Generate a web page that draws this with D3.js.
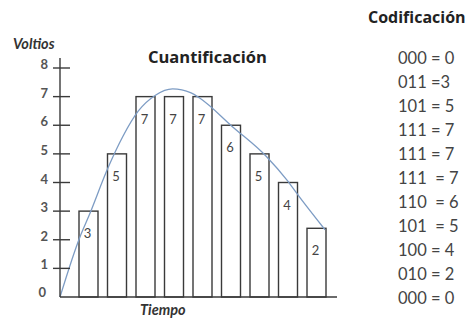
<!DOCTYPE html>
<html>
<head>
<meta charset="utf-8">
<script src="https://cdnjs.cloudflare.com/ajax/libs/d3/7.8.5/d3.min.js"></script>
<style>
  body { margin: 0; background: #fff; }
  text { font-family: Lato, "Open Sans", sans-serif; }
</style>
</head>
<body>
<div class="canvas"></div>
<script>

// datos de la señal cuantificada
const muestras = [1, 2, 3, 4, 5, 6, 7, 8, 9];
const alturas = [3, 5, 7, 7, 7, 6, 5, 4, 2.4];
const etiquetas = ['3', '5', '7', '7', '7', '6', '5', '4', '2'];

// señal analógica (tiempo, voltios)
const curvaT = [0, 0.7, 1.0, 1.7, 2.2, 2.75, 3.35, 3.95, 4.6, 4.9, 6.05, 7.25, 7.95, 8.4, 9.3];
const curvaV = [0, 2.1, 2.8, 4.55, 5.6, 6.5, 7.05, 7.27, 7.13, 6.95, 5.95, 4.9, 4.1, 3.5, 2.35];

const ticksY = [0, 1, 2, 3, 4, 5, 6, 7, 8];

const codigos = ['000 = 0', '011 =3', '101 = 5', '111 = 7', '111 = 7', '111  = 7',
  '110  = 6', '101  = 5', '100 = 4', '010 = 2', '000 = 0'];

const dims = { width: 475, height: 321 };

const svg = d3.select('.canvas')
  .append('svg')
  .attr('width', dims.width)
  .attr('height', dims.height);

const x = d3.scaleLinear().domain([0, 1]).range([60, 88.5]);
const y = d3.scaleLinear().domain([0, 8]).range([297, 68]);

const gris = '#3a3a3a';

// barras
svg.selectAll('.barra')
  .data(muestras)
  .enter()
  .append('rect')
    .attr('class', 'barra')
    .attr('x', d => x(d) - 9.5)
    .attr('width', 19)
    .attr('y', (d, i) => y(alturas[i]))
    .attr('height', (d, i) => y(0) - y(alturas[i]))
    .attr('fill', 'none')
    .attr('stroke', gris)
    .attr('stroke-width', 1.4);

svg.selectAll('.etiqueta')
  .data(muestras)
  .enter()
  .append('text')
    .attr('class', 'etiqueta')
    .attr('x', d => x(d) - 1)
    .attr('y', (d, i) => y(alturas[i]) + 27)
    .attr('text-anchor', 'middle')
    .attr('font-size', 13)
    .attr('fill', '#444')
    .text((d, i) => etiquetas[i]);

// curva
const linea = d3.line()
  .x(d => x(d[0]))
  .y(d => y(d[1]))
  .curve(d3.curveMonotoneX);

svg.append('path')
  .datum(curvaT.map((t, i) => [t, curvaV[i]]))
  .attr('d', linea)
  .attr('fill', 'none')
  .attr('stroke', '#7d9cc4')
  .attr('stroke-width', 1.3);

// ejes
svg.append('line')
  .attr('x1', x(0)).attr('x2', 337)
  .attr('y1', y(0)).attr('y2', y(0))
  .attr('stroke', gris).attr('stroke-width', 1.6);

svg.append('line')
  .attr('x1', x(0)).attr('x2', x(0))
  .attr('y1', y(0)).attr('y2', 58)
  .attr('stroke', gris).attr('stroke-width', 1.4);

svg.selectAll('.tick')
  .data(ticksY.filter(d => d > 0))
  .enter()
  .append('line')
    .attr('class', 'tick')
    .attr('x1', 53).attr('x2', 70)
    .attr('y1', d => y(d)).attr('y2', d => y(d))
    .attr('stroke', gris).attr('stroke-width', 1.4);

svg.selectAll('.tickLabel')
  .data(ticksY)
  .enter()
  .append('text')
    .attr('class', 'tickLabel')
    .attr('x', d => d === 0 ? 46 : 48)
    .attr('y', d => y(d) + (d === 0 ? 0 : 1))
    .attr('text-anchor', 'end')
    .attr('font-size', 13)
    .attr('font-weight', 'bold')
    .attr('fill', '#555')
    .text(d => d);

// títulos
svg.append('text')
  .attr('x', 13).attr('y', 49)
  .attr('font-size', 14.5).attr('font-weight', 'bold').attr('font-style', 'italic')
  .attr('fill', '#333')
  .text('Voltios');

svg.append('text')
  .attr('x', 148).attr('y', 63)
  .style('font-family', '"Open Sans", sans-serif')
  .attr('font-size', 16.5).attr('font-weight', 'bold')
  .attr('fill', '#222')
  .text('Cuantificación');

svg.append('text')
  .attr('x', 140).attr('y', 315)
  .attr('font-size', 14.5).attr('font-weight', 'bold').attr('font-style', 'italic')
  .attr('fill', '#333')
  .text('Tiempo');

svg.append('text')
  .attr('x', 368).attr('y', 23)
  .style('font-family', '"Open Sans", sans-serif')
  .attr('font-size', 16).attr('font-weight', 'bold')
  .attr('fill', '#222')
  .text('Codificación');

svg.selectAll('.codigo')
  .data(codigos)
  .enter()
  .append('text')
    .attr('class', 'codigo')
    .attr('x', 398)
    .attr('y', (d, i) => 64 + i * 24)
    .attr('font-size', 16.5)
    .attr('fill', '#444')
    .attr('xml:space', 'preserve')
    .style('white-space', 'pre')
    .text(d => d);

</script>
</body>
</html>
